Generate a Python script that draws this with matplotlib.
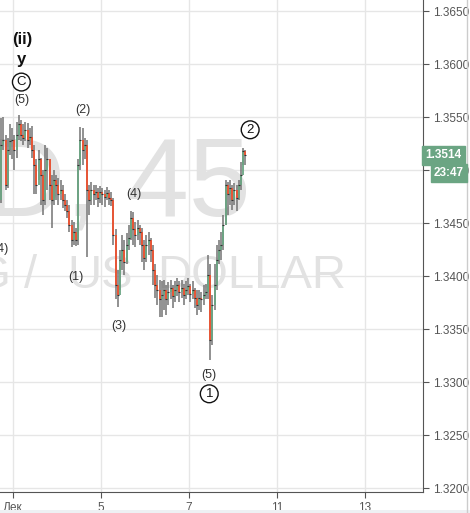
import matplotlib
matplotlib.use("Agg")
import matplotlib.pyplot as plt
from matplotlib.patches import Rectangle
from matplotlib.lines import Line2D
import matplotlib.transforms as mtransforms

# ---------------- data (GBPUSD, 45) ----------------
first_open = 1.3472
closes = [1.3524, 1.3528, 1.3486, 1.3519, 1.3527, 1.3528, 1.3519, 1.3533, 1.3543, 1.3533,
          1.3530, 1.3538, 1.3528, 1.3531, 1.3519, 1.3505, 1.3486, 1.3510, 1.3495, 1.3472,
          1.3500, 1.3510, 1.3486, 1.3472, 1.3491, 1.3486, 1.3477, 1.3481, 1.3472, 1.3467,
          1.3461, 1.3448, 1.3434, 1.3442, 1.3434, 1.3505, 1.3528, 1.3519, 1.3524, 1.3481,
          1.3472, 1.3481, 1.3477, 1.3479, 1.3474, 1.3479, 1.3477, 1.3475, 1.3478, 1.3474,
          1.3472, 1.3439, 1.3392, 1.3382, 1.3415, 1.3425, 1.3413, 1.3429, 1.3436, 1.3455,
          1.3444, 1.3439, 1.3445, 1.3442, 1.3429, 1.3417, 1.3429, 1.3434, 1.3425, 1.3406,
          1.3392, 1.3387, 1.3378, 1.3382, 1.3387, 1.3378, 1.3385, 1.3389, 1.3381, 1.3387,
          1.3392, 1.3385, 1.3389, 1.3382, 1.3387, 1.3391, 1.3383, 1.3387, 1.3379, 1.3373,
          1.3379, 1.3378, 1.3382, 1.3385, 1.3401, 1.3340, 1.3373, 1.3392, 1.3415, 1.3425,
          1.3429, 1.3448, 1.3486, 1.3477, 1.3483, 1.3472, 1.3481, 1.3474, 1.3486, 1.3495,
          1.3518, 1.3514]
highs = [1.3549, 1.3550, 1.3533, 1.3530, 1.3543, 1.3540, 1.3533, 1.3545, 1.3552, 1.3547,
         1.3543, 1.3545, 1.3544, 1.3540, 1.3542, 1.3524, 1.3510, 1.3519, 1.3511, 1.3500,
         1.3524, 1.3521, 1.3510, 1.3495, 1.3500, 1.3495, 1.3493, 1.3491, 1.3486, 1.3477,
         1.3472, 1.3467, 1.3453, 1.3451, 1.3445, 1.3510, 1.3541, 1.3540, 1.3530, 1.3528,
         1.3486, 1.3489, 1.3486, 1.3486, 1.3483, 1.3485, 1.3483, 1.3481, 1.3484, 1.3481,
         1.3479, 1.3474, 1.3444, 1.3406, 1.3425, 1.3439, 1.3434, 1.3441, 1.3448, 1.3461,
         1.3460, 1.3451, 1.3453, 1.3448, 1.3445, 1.3434, 1.3439, 1.3442, 1.3436, 1.3429,
         1.3411, 1.3401, 1.3396, 1.3395, 1.3396, 1.3392, 1.3394, 1.3396, 1.3392, 1.3395,
         1.3398, 1.3395, 1.3396, 1.3393, 1.3395, 1.3398, 1.3393, 1.3395, 1.3389, 1.3387,
         1.3387, 1.3385, 1.3392, 1.3393, 1.3420, 1.3411, 1.3382, 1.3411, 1.3429, 1.3434,
         1.3442, 1.3458, 1.3491, 1.3489, 1.3491, 1.3486, 1.3488, 1.3486, 1.3491, 1.3508,
         1.3521, 1.3519]
lows = [1.3469, 1.3519, 1.3481, 1.3483, 1.3514, 1.3510, 1.3500, 1.3511, 1.3528, 1.3527,
        1.3524, 1.3527, 1.3521, 1.3524, 1.3511, 1.3477, 1.3477, 1.3491, 1.3467, 1.3458,
        1.3467, 1.3481, 1.3472, 1.3445, 1.3467, 1.3472, 1.3467, 1.3472, 1.3464, 1.3461,
        1.3455, 1.3442, 1.3427, 1.3429, 1.3428, 1.3429, 1.3500, 1.3505, 1.3510, 1.3418,
        1.3458, 1.3467, 1.3467, 1.3472, 1.3465, 1.3469, 1.3467, 1.3465, 1.3472, 1.3467,
        1.3466, 1.3429, 1.3378, 1.3371, 1.3387, 1.3406, 1.3401, 1.3411, 1.3425, 1.3434,
        1.3429, 1.3427, 1.3434, 1.3429, 1.3413, 1.3406, 1.3413, 1.3420, 1.3413, 1.3392,
        1.3379, 1.3373, 1.3361, 1.3361, 1.3368, 1.3363, 1.3373, 1.3378, 1.3370, 1.3376,
        1.3381, 1.3376, 1.3379, 1.3373, 1.3378, 1.3382, 1.3376, 1.3378, 1.3370, 1.3363,
        1.3368, 1.3366, 1.3373, 1.3378, 1.3378, 1.3321, 1.3335, 1.3368, 1.3387, 1.3411,
        1.3415, 1.3425, 1.3448, 1.3458, 1.3467, 1.3462, 1.3467, 1.3461, 1.3472, 1.3481,
        1.3505, 1.3505]
opens = [first_open] + closes[:-1]

start_day = -0.27      # trading-day position of first candle (Dec 1 = 0)
bar_step = 0.05        # trading days per candle

x_ticks = [0, 2, 4, 6, 8]
x_labels = ["Дек", "5", "7", "11", "13"]
y_ticks = [1.3200, 1.3250, 1.3300, 1.3350, 1.3400, 1.3450, 1.3500, 1.3550, 1.3600, 1.3650]

last_price = 1.3514
countdown = "23:47"

wave_labels = [  # (day, price, text, style)
    (0.20, 1.3623, "(ii)", "big"),
    (0.20, 1.3604, "y", "big"),
    (0.19, 1.3583, "C", "circle"),
    (0.19, 1.3566, "(5)", "plain"),
    (1.59, 1.3557, "(2)", "plain"),
    (1.43, 1.3399, "(1)", "plain"),
    (2.75, 1.3477, "(4)", "plain"),
    (2.40, 1.3353, "(3)", "plain"),
    (4.46, 1.3307, "(5)", "plain"),
    (4.46, 1.3289, "1", "circle"),
    (5.39, 1.3538, "2", "circle"),
    (-0.27, 1.3426, "(4)", "plain"),
]

# ---------------- style ----------------
UP = "#6ba583"
DOWN = "#f0512f"
WICK = "#737373"
GRID = "#e6e6e6"
AXC = "#555555"
TXT = "#555555"
WM = "#e2e2e2"

plt.rcParams['font.family'] = ['Liberation Sans', 'DejaVu Sans']

W, H = 470, 513
fig = plt.figure(figsize=(W / 100, H / 100), dpi=100)
fig.patch.set_facecolor("white")
ax = fig.add_axes([0, 21 / H, 423 / W, 492 / H])
ax.set_facecolor("white")

ax.set_xlim(-0.2955, 9.318)
ax.set_ylim(1.31964, 1.36604)

# grid
for yt in y_ticks:
    ax.axhline(yt, color=GRID, lw=1, zorder=0)
for xt in x_ticks:
    ax.axvline(xt, color=GRID, lw=1, zorder=0)

# watermark (symbol, timeframe, description)
ax.text(251 / 423, 1 - 187 / 492, "GBPUSD, 45", transform=ax.transAxes,
        ha="right", va="center", fontsize=80, color=WM, zorder=0.5)
ax.text(37 / 423, 1 - 276 / 492, "POUND STERLING /", transform=ax.transAxes,
        ha="right", va="center", fontsize=34, color=WM, zorder=0.5)
ax.text(67 / 423, 1 - 276 / 492, "US", transform=ax.transAxes,
        ha="left", va="center", fontsize=34, color=WM, zorder=0.5)
ax.text(157 / 423, 1 - 276 / 492, "DOLLAR", transform=ax.transAxes,
        ha="left", va="center", fontsize=34, color=WM, zorder=0.5)

# candles
xs = [start_day + bar_step * i for i in range(len(closes))]
ax.vlines(xs, lows, highs, color=WICK, lw=1.1, zorder=2)
for x, o, c in zip(xs, opens, closes):
    col = UP if c >= o else DOWN
    lo, hi = min(o, c), max(o, c)
    if hi - lo < 0.00008:
        hi = lo + 0.00008
    ax.vlines(x, lo, hi, color=col, lw=1.3, zorder=3)
    ax.plot([x], [c], marker="_", ms=1.5, color="#333333", zorder=4, mew=0.8)

# wave labels
for d, p, t, s in wave_labels:
    if s == "big":
        ax.text(d, p, t, ha="center", va="center", fontsize=12, fontweight="bold",
                color="#111111", zorder=5)
    elif s == "circle":
        ax.text(d, p, t, ha="center", va="center", fontsize=9.5, color="#111111", zorder=5,
                bbox=dict(boxstyle="circle,pad=0.22", fc="white", ec="#111111", lw=1.0))
    else:
        ax.text(d, p, t, ha="center", va="center", fontsize=9, color="#333333", zorder=5)

# axes styling
for side in ["left", "top"]:
    ax.spines[side].set_visible(False)
ax.spines["right"].set_color(AXC)
ax.spines["bottom"].set_color(AXC)
ax.yaxis.tick_right()
ax.set_yticks(y_ticks)
ax.set_yticklabels([f"{v:.4f}" for v in y_ticks])
ax.set_xticks(x_ticks)
ax.set_xticklabels(x_labels)
ax.tick_params(axis="y", colors=AXC, labelcolor=TXT, length=4, labelsize=8.5, pad=3)
ax.tick_params(axis="x", colors=AXC, labelcolor=TXT, length=4, labelsize=8.5, pad=3)

# price label boxes
blend = mtransforms.blended_transform_factory(ax.transAxes, ax.transData)
ax.text(1.005, last_price, f"{last_price:.4f}", transform=blend, ha="left", va="center",
        fontsize=8.5, fontweight="bold", color="white", zorder=6, clip_on=False,
        bbox=dict(boxstyle="square,pad=0.3", fc=UP, ec=UP))
fig.text(464 / W, 1 - 173 / H, countdown, ha="right", va="center", fontsize=8.5,
         fontweight="bold", color="white",
         bbox=dict(boxstyle="square,pad=0.25", fc=UP, ec=UP))

# frame details
fig.add_artist(Line2D([467 / W, 467 / W], [0, 1], transform=fig.transFigure, color="#cccccc", lw=1))
fig.add_artist(Rectangle((0, 0), 1, 3 / H, transform=fig.transFigure, color="#eef0f3", lw=0))

fig.savefig("out.png", dpi=100)
